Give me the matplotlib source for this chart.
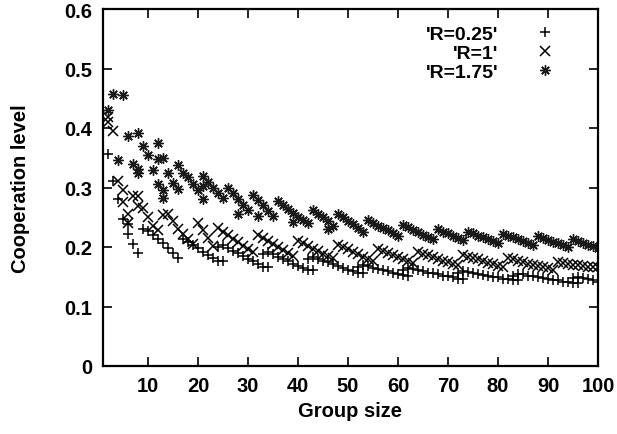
import matplotlib
matplotlib.use('Agg')
import matplotlib.pyplot as plt

plt.rcParams['font.family'] = ['Liberation Sans', 'DejaVu Sans']
plt.rcParams['font.size'] = 14
plt.rcParams['font.weight'] = 'bold'

# values (group size, cooperation level)
r025_x = [2, 3, 4, 5, 6, 6, 7, 8, 9, 10, 11, 12, 13, 14, 15, 16,
          17, 18, 19, 20, 21, 22, 23, 24, 24, 25,
          25, 26, 27, 28, 29, 30, 31, 32, 33, 33, 34,
          34, 35, 36, 37, 38, 39, 40, 41, 42, 42, 43,
          43, 44, 45, 46, 47, 48, 49, 50, 51, 52, 52, 53,
          53, 54, 55, 56, 57, 58, 59, 60, 61, 61, 62,
          62, 63, 64, 65, 66, 67, 68, 69, 70, 71, 72, 72, 73,
          73, 74, 75, 76, 77, 78, 79, 80, 81, 82, 83, 83, 84,
          84, 85, 86, 87, 88, 89, 90, 91, 92, 93, 94, 95, 95, 96,
          96, 97, 98, 99, 100]
r025_y = [0.356, 0.311, 0.281, 0.247, 0.238, 0.222, 0.205, 0.190, 0.230, 0.227,
          0.221, 0.214, 0.206, 0.198, 0.190, 0.181,
          0.214, 0.208, 0.203, 0.198, 0.192, 0.187, 0.181, 0.176, 0.200, 0.176,
          0.204, 0.199, 0.194, 0.190, 0.185, 0.180, 0.176, 0.171, 0.167, 0.188, 0.167,
          0.192, 0.188, 0.184, 0.180, 0.176, 0.172, 0.168, 0.165, 0.162, 0.180, 0.162,
          0.183, 0.180, 0.177, 0.174, 0.171, 0.168, 0.165, 0.162, 0.159, 0.157, 0.167, 0.157,
          0.170, 0.168, 0.165, 0.163, 0.161, 0.159, 0.157, 0.155, 0.153, 0.161, 0.152,
          0.165, 0.163, 0.161, 0.159, 0.157, 0.156, 0.154, 0.152, 0.151, 0.149, 0.147, 0.156, 0.147,
          0.160, 0.158, 0.157, 0.155, 0.153, 0.152, 0.150, 0.149, 0.147, 0.146, 0.144, 0.152, 0.144,
          0.155, 0.154, 0.152, 0.151, 0.149, 0.148, 0.146, 0.145, 0.144, 0.142, 0.141, 0.140, 0.148, 0.140,
          0.150, 0.148, 0.146, 0.144, 0.142]

r1_x = [2, 2, 3, 4, 5, 5, 6, 6, 7, 8, 8, 9, 10, 11, 12, 13, 14, 15, 16, 17, 18, 19,
        20, 21, 22, 23, 24, 25, 26, 27, 28, 29, 30, 31,
        32, 33, 34, 35, 36, 37, 38, 39, 40, 41, 42, 43, 44, 45, 46, 47,
        48, 49, 50, 51, 52, 53, 54, 55, 56, 57, 58, 59, 60, 61, 62, 63,
        64, 65, 66, 67, 68, 69, 70, 71, 72, 73, 74, 75, 76, 77, 78, 79, 80, 81,
        82, 83, 84, 85, 86, 87, 88, 89, 90, 91, 92, 93, 94, 95, 96, 97, 98, 99, 100]
r1_y = [0.418, 0.410, 0.395, 0.311, 0.296, 0.275, 0.255, 0.240, 0.286, 0.286, 0.269,
        0.266, 0.250, 0.236, 0.229, 0.253, 0.255, 0.244, 0.230, 0.222, 0.213, 0.205,
        0.241, 0.228, 0.215, 0.202, 0.232, 0.226, 0.220, 0.214, 0.208, 0.202, 0.197, 0.192,
        0.220, 0.215, 0.210, 0.205, 0.200, 0.195, 0.190, 0.185,
        0.210, 0.206, 0.202, 0.197, 0.193, 0.189, 0.185, 0.181,
        0.204, 0.200, 0.196, 0.192, 0.188, 0.184, 0.180, 0.176,
        0.197, 0.194, 0.190, 0.186, 0.183, 0.179, 0.176, 0.173,
        0.192, 0.189, 0.186, 0.183, 0.180, 0.177, 0.174, 0.172, 0.169,
        0.187, 0.184, 0.181, 0.179, 0.176, 0.173, 0.171, 0.168, 0.166,
        0.181, 0.179, 0.177, 0.174, 0.172, 0.170, 0.168, 0.166, 0.164, 0.162,
        0.174, 0.173, 0.171, 0.170, 0.169, 0.168, 0.167, 0.166, 0.166]

r175_x = [2, 3, 4, 5, 6, 7, 8, 8, 8, 9, 10, 11, 12, 12, 12, 13, 13, 13, 14, 15, 16, 16,
          17, 18, 19, 20, 21, 21, 21, 22, 23, 24, 25, 26, 27, 28, 28, 29, 30,
          31, 32, 32, 33, 34, 35, 36, 37, 38, 39, 39, 40, 41, 42,
          43, 44, 45, 46, 46, 47, 48, 49, 50, 51, 52, 53,
          54, 55, 56, 57, 58, 59, 60, 61, 62, 63, 64, 65, 66, 67,
          68, 69, 70, 71, 72, 73, 74, 75, 76, 77, 78, 79, 80,
          81, 82, 83, 84, 85, 86, 87, 88, 89, 90, 91, 92, 93, 94,
          95, 96, 97, 98, 99, 100]
r175_y = [0.430, 0.457, 0.346, 0.456, 0.387, 0.339, 0.391, 0.331, 0.324, 0.369, 0.355,
          0.330, 0.375, 0.348, 0.306, 0.349, 0.295, 0.282, 0.325, 0.308, 0.338, 0.297,
          0.325, 0.317, 0.306, 0.296, 0.320, 0.303, 0.281, 0.310, 0.300, 0.291, 0.283,
          0.300, 0.291, 0.281, 0.255, 0.271, 0.262,
          0.288, 0.279, 0.252, 0.270, 0.261, 0.252,
          0.278, 0.271, 0.264, 0.257, 0.242, 0.250, 0.245, 0.240,
          0.262, 0.256, 0.250, 0.243, 0.230, 0.236,
          0.255, 0.250, 0.244, 0.238, 0.232, 0.226,
          0.245, 0.241, 0.236, 0.232, 0.228, 0.223, 0.219,
          0.237, 0.233, 0.229, 0.225, 0.221, 0.217, 0.213,
          0.230, 0.226, 0.223, 0.219, 0.215, 0.211,
          0.226, 0.223, 0.219, 0.216, 0.213, 0.210, 0.207,
          0.222, 0.219, 0.216, 0.213, 0.210, 0.207, 0.204,
          0.218, 0.215, 0.212, 0.209, 0.206, 0.203, 0.200,
          0.213, 0.210, 0.207, 0.204, 0.201, 0.199]

labels = ["'R=0.25'", "'R=1'", "'R=1.75'"]
xticks = [10, 20, 30, 40, 50, 60, 70, 80, 90, 100]
yticks = [0, 0.1, 0.2, 0.3, 0.4, 0.5, 0.6]
ytick_labels = ['0', '0.1', '0.2', '0.3', '0.4', '0.5', '0.6']

fig = plt.figure(figsize=(6.17, 4.35), dpi=100)
ax = fig.add_axes([103 / 617, 68 / 435, 495 / 617, 357 / 435])

ax.plot(r025_x, r025_y, linestyle='none', marker='+', ms=7, mew=1.1, color='black', label=labels[0])
ax.plot(r1_x, r1_y, linestyle='none', marker='x', ms=6.5, mew=1.1, color='black', label=labels[1])
ax.plot(r175_x, r175_y, linestyle='none', marker=(8, 2, 0), ms=7.5, mew=1.0, color='#1a1a1a', label=labels[2])

ax.set_xlim(1, 100)
ax.set_ylim(0, 0.6)
ax.set_xticks(xticks)
ax.set_yticks(yticks)
ax.set_yticklabels(ytick_labels)
ax.tick_params(direction='in', length=6.5, width=1.2, top=True, right=True,
               labelsize=14.5, pad=7.5)
for s in ax.spines.values():
    s.set_linewidth(1.6)

ax.set_xlabel('Group size', fontsize=14.5, fontweight='bold')
ax.set_ylabel('Cooperation level', fontsize=14.5, fontweight='bold')
ax.xaxis.set_label_coords(0.5, -0.097)
ax.yaxis.set_label_coords(-0.147, 0.5)

ax.legend(loc='upper right', bbox_to_anchor=(0.968, 1.004), frameon=False,
          markerfirst=False, numpoints=1, handlelength=2, handletextpad=1.4,
          labelspacing=0.08, borderpad=0.4, fontsize=14)

plt.savefig('out.png', dpi=100)
